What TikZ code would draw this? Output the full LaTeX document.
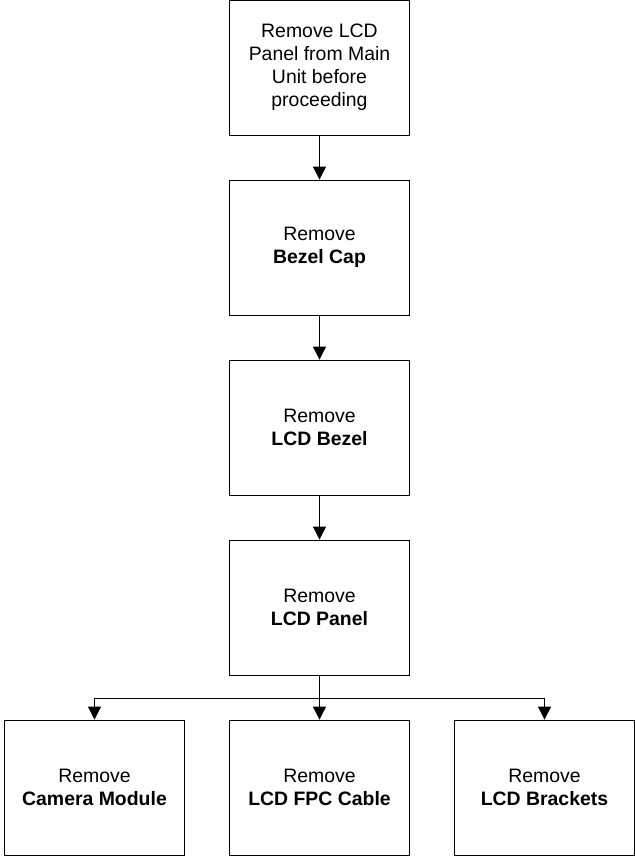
\documentclass[tikz,border=0pt]{standalone}
\usepackage{fontspec}
\setmainfont{Liberation Sans}
\usetikzlibrary{arrows.meta}
\tikzset{
  stepbox/.style={draw, line width=0.8bp, align=center, minimum width=180bp, minimum height=135bp, inner sep=0pt, font=\fontsize{19.5}{23}\selectfont},
  flow/.style={line width=0.8bp, -{Triangle[width=13bp,length=13bp]}}
}
\begin{document}
\begin{tikzpicture}[x=1bp,y=-1bp]
        \useasboundingbox (0,0) rectangle (635,857);
        \node[stepbox] (start) at (319.5,67.5) {Remove LCD\\Panel from Main\\Unit before\\proceeding};
        \node[stepbox] (cap) at (319.5,247.5) {Remove\\\textbf{Bezel Cap}};
        \node[stepbox] (bezel) at (319.5,427.5) {Remove\\\textbf{LCD Bezel}};
        \node[stepbox] (panel) at (319.5,607.5) {Remove\\\textbf{LCD Panel}};
        \node[stepbox] (camera) at (94.5,787.5) {Remove\\\textbf{Camera Module}};
        \node[stepbox] (fpc) at (319.5,787.5) {Remove\\\textbf{LCD FPC Cable}};
        \node[stepbox] (brackets) at (544.5,787.5) {Remove\\\textbf{LCD Brackets}};
        \coordinate (fork) at (319.5,698);

        \draw[flow] (start) -- (cap);
        \draw[flow] (cap) -- (bezel);
        \draw[flow] (bezel) -- (panel);
        \draw[flow] (panel) -- (fpc);
        \draw[flow] (fork) -| (camera);
        \draw[flow] (fork) -| (brackets);
    \end{tikzpicture}
\end{document}
